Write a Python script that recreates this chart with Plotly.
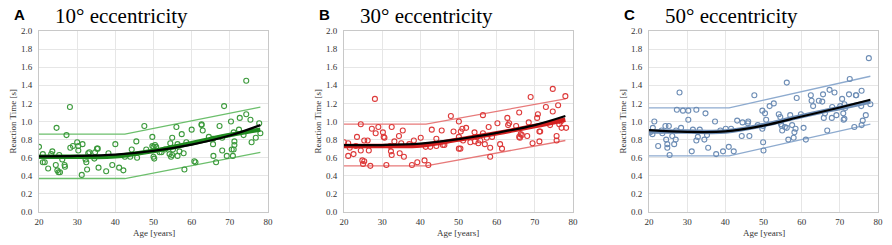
import plotly.graph_objects as go

# ---------------- data ----------------
age_a = [20.0, 21.0, 21.0, 21.5, 22.4, 23.5, 23.2, 24.6, 24.4, 24.8, 25.1, 25.5, 25.3, 26.1, 26.7, 26.8,
         27.2, 28.1, 28.2, 28.9, 30.0, 30.3, 30.3, 31.2, 31.4, 32.2, 32.4, 32.6, 32.9, 33.2, 34.5, 34.7,
         35.2, 35.4, 35.6, 38.2, 37.6, 39.2, 40.0, 41.0, 42.1, 42.5, 43.9, 44.3, 45.5, 45.7, 47.6, 48.1,
         49.7, 49.7, 50.0, 50.0, 50.2, 50.4, 50.7, 51.6, 52.1, 53.0, 54.2, 54.6, 54.9, 54.4, 54.9, 55.1,
         56.0, 56.3, 56.3, 56.8, 57.4, 57.9, 58.1, 58.6, 60.0, 60.7, 61.0, 62.6, 62.6, 62.9, 64.5, 65.6,
         65.6, 65.7, 66.4, 67.3, 68.0, 68.0, 68.5, 69.2, 70.3, 70.5, 71.0, 71.0, 71.2, 71.2, 70.8, 72.6,
         72.4, 73.6, 74.3, 74.3, 75.4, 75.7, 76.8, 77.7, 78.0]
rt_a = [0.72, 0.64, 0.55, 0.55, 0.48, 0.67, 0.64, 0.93, 0.52, 0.46, 0.44, 0.44, 0.63, 0.58, 0.52, 0.50,
        0.85, 1.16, 0.71, 0.73, 0.77, 0.73, 0.68, 0.41, 0.75, 0.58, 0.55, 0.47, 0.65, 0.66, 0.59, 0.66,
        0.70, 0.70, 0.49, 0.65, 0.45, 0.52, 0.75, 0.49, 0.46, 0.61, 0.61, 0.69, 0.78, 0.60, 0.95, 0.69,
        0.83, 0.73, 0.72, 0.61, 0.59, 0.74, 0.72, 0.66, 0.66, 0.69, 0.64, 0.61, 0.63, 0.76, 0.82, 0.69,
        0.94, 0.75, 0.62, 0.67, 0.86, 0.65, 0.47, 0.77, 0.91, 0.56, 0.55, 0.97, 0.96, 0.90, 0.83, 0.81,
        0.75, 0.62, 0.55, 0.95, 0.82, 0.68, 1.17, 0.62, 1.00, 0.69, 0.69, 0.88, 0.78, 0.74, 0.62, 1.04,
        0.91, 0.85, 1.45, 1.08, 1.02, 0.77, 0.82, 0.98, 0.87]

age_b = [20.0, 21.1, 21.1, 21.5, 22.5, 23.4, 23.1, 24.4, 24.4, 24.8, 25.0, 25.3, 25.3, 26.2, 26.5, 26.9,
         27.3, 28.1, 28.3, 29.0, 30.2, 30.4, 30.6, 31.1, 32.1, 32.3, 32.5, 32.5, 33.2, 34.4, 34.6, 35.0,
         35.4, 35.7, 37.1, 37.8, 38.3, 39.2, 40.1, 41.1, 41.4, 42.1, 42.6, 43.0, 44.2, 44.2, 45.6, 45.9,
         46.3, 48.0, 48.7, 50.1, 50.1, 50.1, 50.5, 50.6, 51.0, 51.2, 52.0, 53.1, 54.2, 54.3, 54.8, 55.2,
         55.7, 56.4, 56.4, 56.9, 57.4, 57.9, 58.3, 58.3, 58.8, 60.2, 60.9, 61.4, 62.8, 63.0, 63.3, 65.1,
         65.9, 65.9, 66.1, 66.3, 66.6, 68.0, 68.4, 68.9, 69.4, 70.6, 70.8, 71.2, 71.4, 71.2, 72.9, 74.0,
         74.7, 74.7, 75.7, 75.7, 76.1, 76.4, 76.8, 77.0, 78.0, 78.2]
rt_b = [0.77, 0.76, 0.62, 0.71, 0.64, 0.83, 0.73, 0.97, 0.68, 0.57, 0.53, 0.56, 0.79, 0.79, 0.68, 0.51,
        0.92, 1.25, 0.87, 0.94, 0.88, 0.83, 0.82, 0.52, 0.73, 0.67, 0.63, 0.94, 0.78, 0.84, 0.65, 0.76,
        0.90, 0.61, 0.75, 0.52, 0.79, 0.55, 0.82, 0.57, 0.72, 0.52, 0.72, 0.91, 0.81, 0.73, 0.90, 0.74,
        0.74, 1.06, 0.89, 1.00, 0.83, 0.70, 0.70, 0.89, 0.92, 0.79, 0.93, 0.77, 0.88, 0.78, 0.83, 0.76,
        0.79, 1.07, 0.87, 0.75, 0.82, 0.94, 0.71, 0.61, 0.83, 0.98, 0.75, 0.70, 1.04, 0.96, 0.98, 0.95,
        1.10, 0.83, 0.82, 0.86, 0.85, 0.84, 0.99, 1.27, 0.76, 1.04, 1.08, 0.89, 0.89, 0.78, 1.16, 0.96,
        1.36, 1.11, 0.84, 0.79, 1.18, 0.97, 1.00, 0.93, 1.28, 0.93]

age_c = [20.3, 20.9, 21.0, 21.4, 22.4, 23.3, 23.5, 24.3, 25.2, 24.5, 24.8, 24.8, 25.4, 26.1, 26.6, 27.0,
         27.1, 27.3, 28.0, 28.4, 28.9, 30.3, 30.3, 31.2, 31.5, 32.4, 32.4, 32.8, 33.3, 34.5, 34.8, 35.2,
         35.5, 37.3, 37.6, 38.7, 39.4, 40.1, 40.9, 41.5, 42.2, 43.1, 44.3, 44.5, 45.9, 46.0, 46.3, 47.6,
         48.5, 49.7, 49.7, 49.9, 49.9, 50.0, 50.4, 50.7, 51.6, 52.7, 54.0, 54.4, 54.6, 54.8, 54.9, 55.6,
         56.1, 56.1, 56.5, 57.0, 57.5, 57.9, 58.1, 58.4, 58.7, 59.8, 60.5, 61.1, 62.4, 62.6, 63.0, 64.5,
         65.4, 65.6, 65.8, 66.1, 66.7, 67.3, 67.9, 68.0, 68.6, 69.1, 70.1, 70.6, 70.9, 71.0, 71.2, 71.2,
         71.4, 72.6, 72.4, 73.8, 74.2, 74.3, 75.7, 75.6, 75.7, 76.0, 76.8, 77.6, 78.0]
rt_c = [0.88, 0.86, 0.93, 1.00, 0.73, 0.90, 0.87, 0.95, 0.95, 0.80, 0.75, 0.71, 0.63, 0.84, 0.75, 0.80,
        0.90, 1.13, 1.32, 0.93, 1.12, 1.12, 1.02, 0.67, 0.91, 1.13, 0.79, 0.83, 0.91, 0.80, 1.09, 0.85,
        0.71, 1.00, 0.64, 0.90, 0.67, 0.92, 0.72, 0.92, 0.67, 1.01, 0.84, 0.99, 0.98, 1.00, 0.84, 1.29,
        0.96, 1.12, 0.92, 0.95, 0.77, 0.68, 1.09, 1.02, 1.17, 1.20, 1.08, 1.05, 0.97, 0.95, 0.90, 0.94,
        1.43, 0.93, 0.80, 1.07, 0.96, 0.82, 0.88, 0.92, 1.26, 1.08, 0.93, 0.80, 1.29, 1.23, 1.17, 1.23,
        1.22, 1.30, 1.04, 1.09, 0.90, 1.35, 1.04, 1.16, 1.32, 1.07, 1.17, 1.25, 1.09, 1.02, 1.03, 1.19,
        1.15, 1.47, 1.30, 0.94, 1.29, 1.29, 1.34, 1.17, 0.96, 1.01, 1.07, 1.70, 1.19]

# prediction bands (age breakpoints and values)
band_age_a = [20, 42.5, 78]
upper_a = [0.86, 0.86, 1.16]
lower_a = [0.37, 0.37, 0.66]
band_age_b = [20, 41.5, 78]
upper_b = [0.97, 0.97, 1.25]
lower_b = [0.51, 0.51, 0.79]
band_age_c = [20, 41.0, 78]
upper_c = [1.15, 1.15, 1.50]
lower_c = [0.62, 0.62, 0.97]

# fitted curves
fit_age = [20, 30, 40, 50, 60, 70, 78]
seg_fit_a = [0.61, 0.61, 0.615, 0.675, 0.76, 0.85, 0.91]
poly_fit_a = [0.615, 0.62, 0.635, 0.675, 0.745, 0.845, 0.96]
seg_fit_b = [0.73, 0.73, 0.735, 0.80, 0.87, 0.95, 1.02]
poly_fit_b = [0.74, 0.74, 0.755, 0.805, 0.875, 0.96, 1.06]
seg_fit_c = [0.89, 0.89, 0.89, 0.96, 1.06, 1.15, 1.22]
poly_fit_c = [0.905, 0.885, 0.89, 0.955, 1.055, 1.155, 1.24]

titles = ["10° eccentricity", "30° eccentricity", "50° eccentricity"]
letters = ["A", "B", "C"]
x_title = "Age [years]"
y_title = "Reaction Time [s]"

# ---------------- styling ----------------
W, H = 892, 245
pt_colors = ["#3c9a3c", "#dd3a3a", "#6d8db5"]
band_colors = ["#6cbf6c", "#e77a7a", "#8eabcf"]
fit_colors = ["#1f8a1f", "#d42020", "#6d8db5"]
x_pix = [(39, 268), (344, 573), (649, 878)]   # pixel positions of plot areas
y_top, y_bot = 31, 212
serif = "Liberation Serif, Times New Roman, serif"


def px(x):
    return x / W


def py(y):
    return 1 - y / H


fig = go.Figure()

panels = [
    (age_a, rt_a, band_age_a, upper_a, lower_a, seg_fit_a, poly_fit_a),
    (age_b, rt_b, band_age_b, upper_b, lower_b, seg_fit_b, poly_fit_b),
    (age_c, rt_c, band_age_c, upper_c, lower_c, seg_fit_c, poly_fit_c),
]

for i, (ages, rts, bx, up, lo, seg, poly) in enumerate(panels):
    sfx = "" if i == 0 else str(i + 1)
    xa, ya = "x" + sfx, "y" + sfx
    fig.add_trace(go.Scatter(x=bx, y=up, mode="lines", line=dict(color=band_colors[i], width=1.3),
                             xaxis=xa, yaxis=ya, showlegend=False, hoverinfo="skip"))
    fig.add_trace(go.Scatter(x=bx, y=lo, mode="lines", line=dict(color=band_colors[i], width=1.3),
                             xaxis=xa, yaxis=ya, showlegend=False, hoverinfo="skip"))
    fig.add_trace(go.Scatter(x=ages, y=rts, mode="markers",
                             marker=dict(symbol="circle-open", size=5, color=pt_colors[i],
                                         line=dict(width=1.1, color=pt_colors[i])),
                             xaxis=xa, yaxis=ya, showlegend=False))
    fig.add_trace(go.Scatter(x=fit_age, y=seg, mode="lines", line=dict(color=fit_colors[i], width=4.5, shape="spline"),
                             xaxis=xa, yaxis=ya, showlegend=False))
    fig.add_trace(go.Scatter(x=fit_age, y=poly, mode="lines", line=dict(color="#000000", width=2.2, shape="spline"),
                             xaxis=xa, yaxis=ya, showlegend=False))

    x0, x1 = x_pix[i]
    axis_common = dict(showgrid=True, gridcolor="#e6e6e6", gridwidth=1, zeroline=False,
                       showline=True, linecolor="#c8c8c8", linewidth=1, mirror=True,
                       ticks="", automargin=False,
                       tickfont=dict(family=serif, size=9, color="#333333"))
    fig.update_layout(**{
        "xaxis" + sfx: dict(domain=[px(x0), px(x1)], range=[20, 80], dtick=10, anchor=ya,
                            ticklabelstandoff=1, **axis_common),
        "yaxis" + sfx: dict(domain=[py(y_bot), py(y_top)], range=[0, 2.0], dtick=0.2, tickformat=".1f",
                            anchor=xa, ticklabelstandoff=4, **axis_common),
    })
    fig.add_annotation(text=x_title, x=px((x0 + x1) / 2), y=py(233), xref="paper", yref="paper",
                       xanchor="center", yanchor="middle", showarrow=False,
                       font=dict(family=serif, size=9, color="#333333"))
    fig.add_annotation(text=y_title, x=px(x0 - 26), y=py((y_top + y_bot) / 2), xref="paper", yref="paper",
                       xanchor="center", yanchor="middle", showarrow=False, textangle=-90,
                       font=dict(family=serif, size=9, color="#333333"))
    fig.add_annotation(text="<b>%s</b>" % letters[i], x=px(x0 - 27), y=py(15), xref="paper", yref="paper",
                       xanchor="left", yanchor="middle", showarrow=False,
                       font=dict(family="Liberation Sans, Arial, sans-serif", size=15, color="#000000"))
    fig.add_annotation(text=titles[i], x=px(x0 + 82), y=py(16), xref="paper", yref="paper",
                       xanchor="center", yanchor="middle", showarrow=False,
                       font=dict(family=serif, size=21, color="#000000"))

fig.update_layout(width=W, height=H, margin=dict(l=0, r=0, t=0, b=0),
                  paper_bgcolor="white", plot_bgcolor="white")

# remove the browser's default page margin so the figure fills the window exactly
fig.write_html("out.html", config={"displayModeBar": False},
               post_script="document.body.style.margin='0';document.body.style.overflow='hidden';")
